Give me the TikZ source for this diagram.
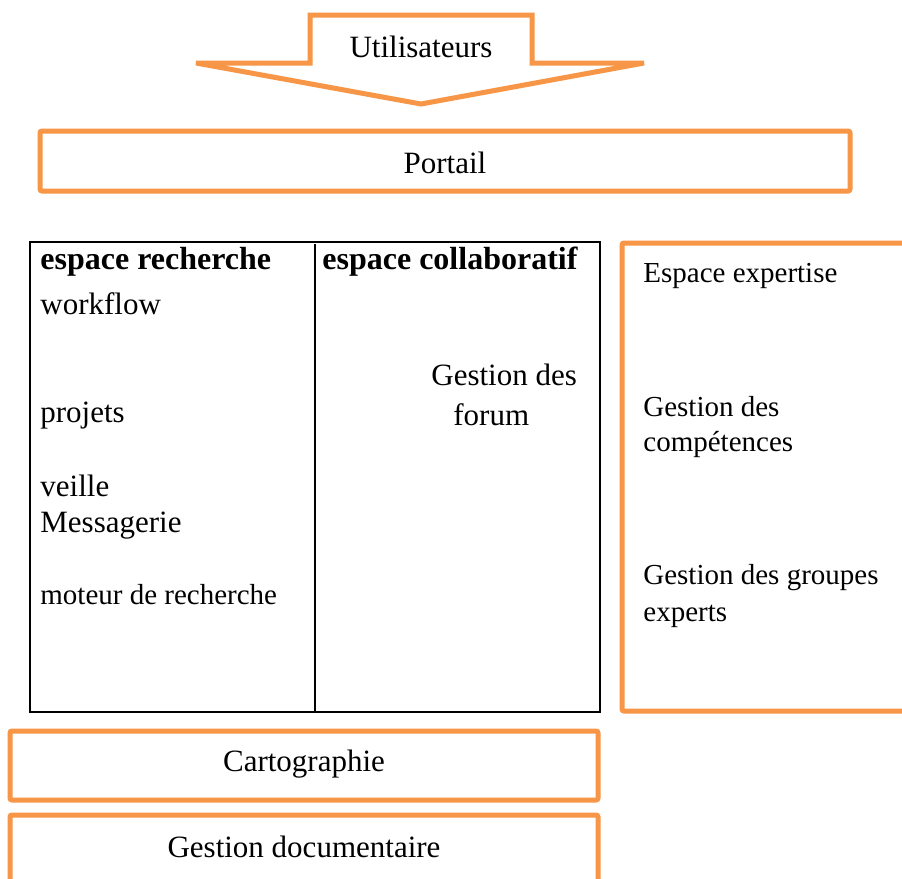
\documentclass[tikz,border=0pt]{standalone}
\usepackage{fontspec}
\setmainfont{Liberation Serif}
\definecolor{boxorange}{HTML}{F79646}
\tikzset{
  orangebox/.style={draw=boxorange, line width=2.5pt, rounded corners=1pt},
  txt/.style={inner sep=0pt, font=\fontsize{15.5}{18}\selectfont},
  smalltxt/.style={inner sep=0pt, font=\fontsize{14.5}{17}\selectfont},
  headtxt/.style={inner sep=0pt, font=\fontsize{16}{19}\selectfont\bfseries},
}

\begin{document}
\begin{tikzpicture}[x=0.5pt, y=-0.5pt]

  \clip (0, 0) rectangle (902, 879);
  \fill[white] (0, 0) rectangle (902, 879);

  % arrow
  \draw[orangebox, rounded corners=0pt, line join=miter] (310, 15) -- (532, 15) -- (532, 63) -- (644, 63)
    -- (421, 104) -- (196, 63) -- (310, 63) -- cycle;
  \node[txt] (users) at (421, 47) {Utilisateurs};

  % portail
  \draw[orangebox] (40, 131) rectangle (850, 191);
  \node[txt] (portail) at (445, 163) {Portail};

  % espaces
  \draw[line width=1pt] (30, 242) rectangle (600, 712);
  \draw[line width=1pt] (315, 244) -- (315, 712);

  \node[headtxt, anchor=west] (rech) at (40, 262) {espace recherche};
  \node[txt, anchor=west] (workflow) at (40, 304) {workflow};
  \node[txt, anchor=west] (projets) at (40, 416) {projets};
  \node[txt, anchor=west] (veille) at (40, 486) {veille};
  \node[txt, anchor=west] (messagerie) at (40, 526) {Messagerie};
  \node[smalltxt, anchor=west] (moteur) at (40, 595) {moteur de recherche};

  \node[headtxt, anchor=west] (collab) at (322, 262) {espace collaboratif};
  \node[txt, anchor=west] (gdes) at (431, 375) {Gestion des};
  \node[txt, anchor=west] (forum) at (453, 415) {forum};

  % expertise
  \draw[orangebox] (920, 243) -- (622, 243) -- (622, 711) -- (920, 711);
  \node[smalltxt, anchor=west] (expertise) at (643, 276) {Espace expertise};
  \node[smalltxt, anchor=west] (comp1) at (643, 407) {Gestion des};
  \node[smalltxt, anchor=west] (comp2) at (643, 445) {compétences};
  \node[smalltxt, anchor=west] (grp1) at (643, 578) {Gestion des groupes};
  \node[smalltxt, anchor=west] (grp2) at (643, 616) {experts};

  % bas
  \draw[orangebox] (10, 731) rectangle (598, 800);
  \node[txt] (carto) at (304, 764) {Cartographie};
  \draw[orangebox] (10, 900) -- (10, 815) -- (598, 815) -- (598, 900);
  \node[txt] (gdoc) at (304, 847) {Gestion documentaire};

\end{tikzpicture}
\end{document}
